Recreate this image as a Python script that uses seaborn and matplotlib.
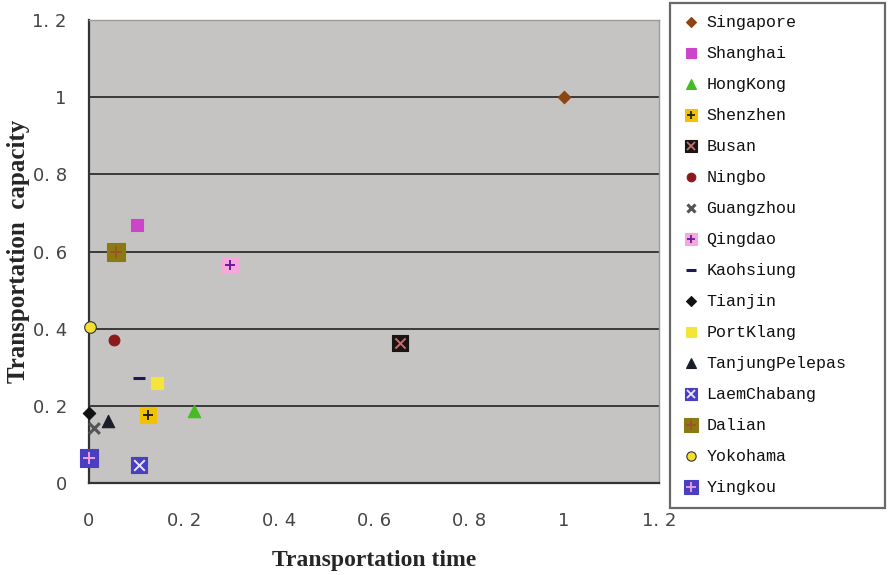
import numpy as np
import pandas as pd
import matplotlib
matplotlib.use("Agg")
import matplotlib.pyplot as plt
import seaborn as sns
from matplotlib.lines import Line2D
from matplotlib.legend_handler import HandlerTuple

# ---- data ----
ports = ["Singapore", "Shanghai", "HongKong", "Shenzhen", "Busan", "Ningbo",
         "Guangzhou", "Qingdao", "Kaohsiung", "Tianjin", "PortKlang",
         "TanjungPelepas", "LaemChabang", "Dalian", "Yokohama", "Yingkou"]
transport_time = [1.0, 0.101, 0.221, 0.124, 0.655, 0.053, 0.011, 0.297,
                  0.105, 0.0, 0.143, 0.040, 0.105, 0.057, 0.002, 0.0]
transport_capacity = [1.0, 0.670, 0.187, 0.177, 0.364, 0.371, 0.143, 0.564,
                      0.273, 0.182, 0.260, 0.161, 0.047, 0.600, 0.405, 0.065]
x_ticks = [0, 0.2, 0.4, 0.6, 0.8, 1.0, 1.2]
x_tick_labels = ["0", "0. 2", "0. 4", "0. 6", "0. 8", "1", "1. 2"]
y_ticks = [0, 0.2, 0.4, 0.6, 0.8, 1.0, 1.2]
y_tick_labels = ["0", "0. 2", "0. 4", "0. 6", "0. 8", "1", "1. 2"]

# ---- styles: (marker, face, edge, size, inner marker, inner colour) ----
styles = {
    "Singapore":      ("D", "#8B4513", "#8B4513", 40, None, None),
    "Shanghai":       ("s", "#CC44C8", "#CC44C8", 80, None, None),
    "HongKong":       ("^", "#44BB22", "#44BB22", 80, None, None),
    "Shenzhen":       ("s", "#F2C200", "#F2C200", 130, "+", "#222222"),
    "Busan":          ("s", "#1A1414", "#1A1414", 120, "x", "#C07070"),
    "Ningbo":         ("o", "#8B1A1A", "#8B1A1A", 60, None, None),
    "Guangzhou":      ("x", "#555555", "#555555", 60, None, None),
    "Qingdao":        ("s", "#F6A8DC", "#F6A8DC", 120, "+", "#6A1B9A"),
    "Kaohsiung":      ("_", "#1A1A5A", "#1A1A5A", 80, None, None),
    "Tianjin":        ("D", "#111111", "#111111", 40, None, None),
    "PortKlang":      ("s", "#F5E43A", "#F5E43A", 80, None, None),
    "TanjungPelepas": ("^", "#1A1E2A", "#1A1E2A", 80, None, None),
    "LaemChabang":    ("s", "#4A3FC0", "#4A3FC0", 130, "x", "#E8E8FF"),
    "Dalian":         ("s", "#8B7A12", "#8B7A12", 150, "+", "#A0522D"),
    "Yokohama":       ("o", "#F2E030", "#333333", 70, None, None),
    "Yingkou":        ("s", "#4A3FC0", "#4A3FC0", 150, "+", "#F0A0E0"),
}

df = pd.DataFrame({"port": ports, "time": transport_time,
                   "capacity": transport_capacity})

sns.set_theme(style="white")
plt.rcParams["font.family"] = ["DejaVu Sans"]

fig = plt.figure(figsize=(8.88, 5.75), dpi=100)
ax = fig.add_axes([0.1002, 0.16, 0.6418, 0.805])
ax.set_facecolor("#C6C4C2")

for port in ports:
    m, fc, ec, s, im, ic = styles[port]
    sub = df[df["port"] == port]
    lw = 2.2 if m in ("_", "x") else 0.8
    sns.scatterplot(data=sub, x="time", y="capacity", marker=m, s=s,
                    color=fc, edgecolor=ec, linewidth=lw, ax=ax,
                    legend=False, zorder=3, clip_on=False)
    if im is not None:
        sns.scatterplot(data=sub, x="time", y="capacity", marker=im,
                        s=s * 0.45, color=ic, linewidth=1.4, ax=ax,
                        legend=False, zorder=4, clip_on=False)

ax.set_xlim(0, 1.2)
ax.set_ylim(0, 1.2)
ax.set_xticks(x_ticks)
ax.set_xticklabels(x_tick_labels)
ax.set_yticks(y_ticks)
ax.set_yticklabels(y_tick_labels)
for yv in y_ticks[1:-1]:
    ax.axhline(yv, color="#3A3A3A", linewidth=1.4, zorder=1)

for lab in ax.get_xticklabels() + ax.get_yticklabels():
    lab.set_fontfamily("DejaVu Sans")
    lab.set_fontsize(13)
    lab.set_color("#444444")
ax.tick_params(axis="x", direction="in", length=4, width=1, color="#333333", pad=21)
ax.tick_params(axis="y", length=0, pad=16)

ax.spines["left"].set_color("#333333")
ax.spines["left"].set_linewidth(1.6)
ax.spines["bottom"].set_color("#333333")
ax.spines["bottom"].set_linewidth(1.6)
for sp in ("top", "right"):
    ax.spines[sp].set_color("#9A9A9A")
    ax.spines[sp].set_linewidth(1.0)

ax.set_xlabel("Transportation time", fontfamily="Liberation Serif",
              fontweight="bold", fontsize=17, labelpad=14)
ax.set_ylabel("Transportation  capacity", fontfamily="Liberation Serif",
              fontweight="bold", fontsize=18, labelpad=12)
ax.yaxis.set_label_coords(-0.104, 0.5)

# ---- legend ----
handles = []
for port in ports:
    m, fc, ec, s, im, ic = styles[port]
    ms = np.sqrt(s) * 0.8
    lw = 2.2 if m in ("_", "x") else 0.8
    base = Line2D([], [], linestyle="none", marker=m, markersize=ms,
                  markerfacecolor=fc, markeredgecolor=ec, markeredgewidth=lw,
                  color=fc)
    if im is not None:
        inner = Line2D([], [], linestyle="none", marker=im, markersize=ms * 0.7,
                       color=ic, markeredgewidth=1.3)
        handles.append((base, inner))
    else:
        handles.append(base)

leg = fig.legend(handles, ports, loc="upper left",
                 bbox_to_anchor=(0.755, 0.122, 0.242, 0.873), mode="expand",
                 handler_map={tuple: HandlerTuple(ndivide=1)},
                 prop={"family": "Liberation Mono", "size": 12},
                 frameon=True, fancybox=False, borderaxespad=0,
                 handlelength=1.0, handletextpad=0.4, labelspacing=0.96,
                 borderpad=0.75)
leg.get_frame().set_edgecolor("#444444")
leg.get_frame().set_linewidth(1.6)
for t in leg.get_texts():
    t.set_color("#111111")

fig.savefig("out.png", dpi=100, facecolor="white")
